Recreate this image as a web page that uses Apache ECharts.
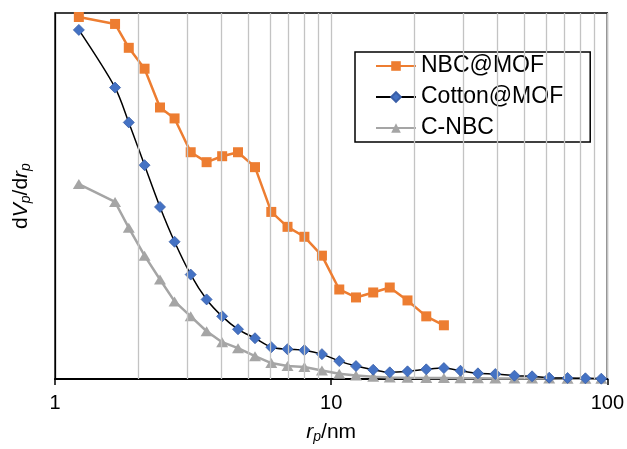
<!DOCTYPE html>
<html>
<head>
<meta charset="utf-8">
<script src="https://cdn.jsdelivr.net/npm/echarts@6/dist/echarts.min.js"></script>
<style>
  html, body { margin: 0; padding: 0; background: #fff; }
  #chart { width: 627px; height: 449px; }
</style>
</head>
<body>
<div id="chart"></div>
<script>
// pore radius r_p (nm), shared by the three curves
const poreRadius = [1.22, 1.65, 1.85, 2.11, 2.4, 2.71, 3.1, 3.54, 4.03, 4.6, 5.3, 6.07, 6.95, 8.0, 9.26,
  10.7, 12.3, 14.2, 16.3, 18.9, 22.1, 25.6, 29.4, 34, 39.3, 46.1, 53.4, 61.6, 71.8, 83.3, 95.1];

// dVp/drp, arbitrary units
const nbcMof = [364, 357, 333, 312, 273, 262, 228, 218, 224, 228, 213, 168, 153, 143, 124,
  90, 82, 87, 92, 79, 63, 54];
const cottonMof = [351, 293, 258, 215, 173, 138, 105, 80, 63, 50, 41, 32, 30, 29, 25,
  18, 13, 9.3, 6.7, 7.7, 9.7, 11, 8.3, 5.7, 5, 3.3, 2.7, 1.3, 1, 0.7, 0.3];
const cNbc = [196, 178, 152, 124, 100, 78, 63, 48, 37, 31, 23, 16, 13, 12, 8.5,
  5.2, 3.5, 2.2, 1.5, 1.2, 1, 1, 0.8, 0.7, 0.6, 0.5, 0.4, 0.4, 0.3, 0.3, 0.2];

const minorGrid = [2, 3, 4, 5, 6, 7, 8, 9, 20, 30, 40, 50, 60, 70, 80, 90];

const FONT = "'Liberation Sans', Arial, sans-serif";

const pairs = ys => ys.map((y, i) => [poreRadius[i], y]);

const chart = echarts.init(document.getElementById("chart"), null, { renderer: "canvas" });

chart.setOption({
  animation: false,
  backgroundColor: "#fff",
  grid: {
    left: 55, right: 17, top: 13, bottom: 68,
    show: true, borderColor: "#000", borderWidth: 1.5, backgroundColor: "transparent"
  },
  legend: {
    data: ["NBC@MOF", "Cotton@MOF", "C-NBC"],
    orient: "vertical",
    left: 355, top: 52,
    padding: [2, 27, 2, 20],
    itemWidth: 40, itemHeight: 12, itemGap: 7,
    borderColor: "#000", borderWidth: 1.5, backgroundColor: "#fff",
    textStyle: { fontFamily: FONT, fontSize: 23, color: "#000", lineHeight: 24 }
  },
  xAxis: {
    type: "log", logBase: 10, min: 1, max: 100,
    axisLine: { lineStyle: { color: "#000", width: 2 } },
    axisTick: { show: true, length: 6, lineStyle: { color: "#000", width: 1.5 } },
    axisLabel: { fontFamily: FONT, fontSize: 20, color: "#000", margin: 14 },
    splitLine: { show: true, lineStyle: { color: "#c3c3c3", width: 1.3 } },
    name: "{i|r}{s|p}{n|/nm}",
    nameLocation: "middle", nameGap: 41,
    nameTextStyle: {
      rich: {
        i: { fontFamily: FONT, fontSize: 21, fontStyle: "italic", color: "#000" },
        s: { fontFamily: FONT, fontSize: 14, fontStyle: "italic", color: "#000", padding: [10, 0, 0, 0] },
        n: { fontFamily: FONT, fontSize: 21, color: "#000" }
      }
    }
  },
  yAxis: {
    type: "value", min: 0, max: 368,
    axisLine: { show: true, lineStyle: { color: "#000", width: 1.2 } },
    axisTick: { show: false },
    axisLabel: { show: false },
    splitLine: { show: false },
    name: "{n|d}{i|V}{s|p}{n|/d}{i|r}{s|p}",
    nameLocation: "middle", nameRotate: 90, nameGap: 22,
    nameTextStyle: {
      rich: {
        i: { fontFamily: FONT, fontSize: 21, fontStyle: "italic", color: "#000" },
        s: { fontFamily: FONT, fontSize: 14, fontStyle: "italic", color: "#000", padding: [10, 0, 0, 0] },
        n: { fontFamily: FONT, fontSize: 21, color: "#000" }
      }
    }
  },
  series: [
    {
      name: "grid",
      type: "line",
      data: [],
      z: 0,
      silent: true,
      markLine: {
        silent: true,
        symbol: "none",
        label: { show: false },
        lineStyle: { color: "#c3c3c3", width: 1.3, type: "solid" },
        data: minorGrid.map(v => ({ xAxis: v }))
      }
    },
    {
      name: "C-NBC",
      type: "line",
      data: pairs(cNbc),
      symbol: "triangle",
      symbolSize: [12, 10],
      lineStyle: { color: "#a5a5a5", width: 2.5 },
      itemStyle: { color: "#a5a5a5" },
      z: 2
    },
    {
      name: "Cotton@MOF",
      type: "line",
      data: pairs(cottonMof),
      smooth: 0.3,
      symbol: "diamond",
      symbolSize: 11,
      lineStyle: { color: "#000", width: 1.5 },
      itemStyle: { color: "#4472c4", borderColor: "#3a5fa8", borderWidth: 0.8 },
      z: 3
    },
    {
      name: "NBC@MOF",
      type: "line",
      data: pairs(nbcMof),
      symbol: "rect",
      symbolSize: 10,
      lineStyle: { color: "#ed7d31", width: 2.5 },
      itemStyle: { color: "#ed7d31" },
      z: 4
    }
  ]
});
</script>
</body>
</html>
